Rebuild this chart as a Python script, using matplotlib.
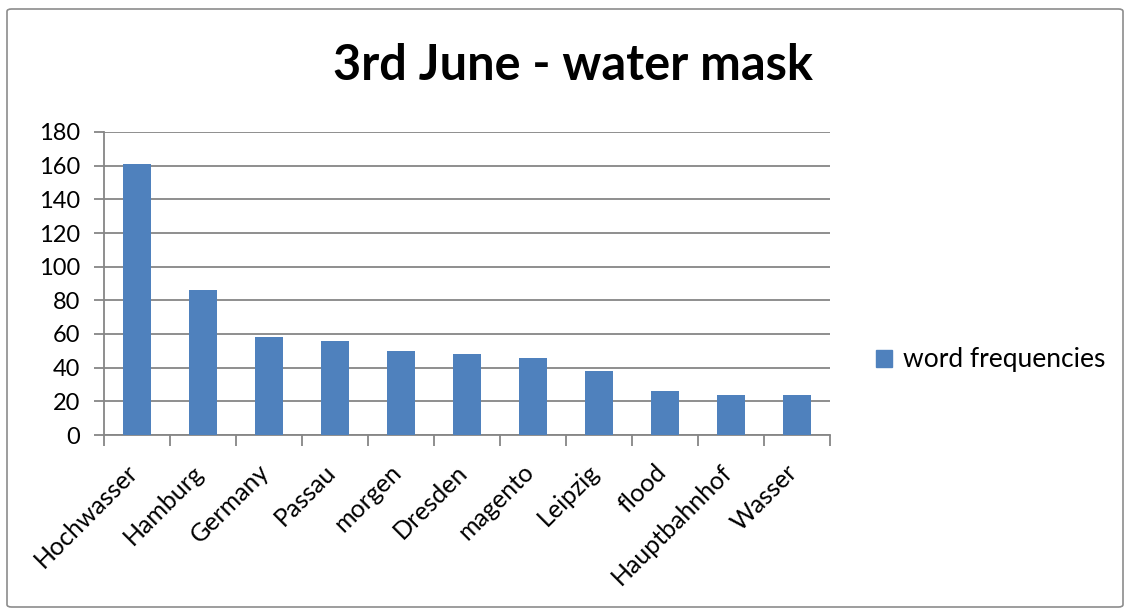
import matplotlib.pyplot as plt
from matplotlib.patches import FancyBboxPatch, Patch

# word counts for the 3rd June water mask
words = ['Hochwasser', 'Hamburg', 'Germany', 'Passau', 'morgen', 'Dresden',
         'magento', 'Leipzig', 'flood', 'Hauptbahnhof', 'Wasser']
counts = [161, 86, 58, 56, 50, 48, 46, 38, 26, 24, 24]
y_ticks = [0, 20, 40, 60, 80, 100, 120, 140, 160, 180]

BAR = '#4F81BD'
GRID = '#868686'
W, H = 1131, 615

plt.rcParams['font.family'] = ['Lato', 'DejaVu Sans']

fig = plt.figure(figsize=(W / 100, H / 100), dpi=100)

# outer chart frame
frame = FancyBboxPatch((7 / W, 8 / H), 1116 / W, 598 / H,
                       boxstyle='round,pad=0,rounding_size=0.004',
                       transform=fig.transFigure, fill=False,
                       edgecolor='#8c8c8c', linewidth=1.2)
fig.patches.append(frame)

ax = fig.add_axes([104 / W, 1 - 435 / H, (830 - 104) / W, (435 - 132) / H])
x = range(len(words))
ax.bar(x, counts, width=0.41, color=BAR, zorder=3)

ax.set_xlim(-0.5, len(words) - 0.5)
ax.set_ylim(0, 180)
ax.set_yticks(y_ticks)
ax.tick_params(axis='y', labelsize=17, length=7, width=1.3, color=GRID, pad=10)
ax.grid(axis='y', color=GRID, linewidth=1.3, zorder=0)

# category ticks sit between the bars
ax.set_xticks([i - 0.5 for i in range(len(words) + 1)])
ax.set_xticklabels([])
ax.tick_params(axis='x', length=8, width=1.3, color=GRID)
for i, w in enumerate(words):
    ax.text(i - 0.17, -15, w, rotation=45, ha='right', va='top',
            fontsize=18, rotation_mode='anchor')

for side in ['top', 'right']:
    ax.spines[side].set_visible(False)
for side in ['left', 'bottom']:
    ax.spines[side].set_color(GRID)
    ax.spines[side].set_linewidth(1.3)

fig.text(573 / W, 1 - 66 / H, '3rd June - water mask', ha='center', va='center',
         fontsize=35, fontweight='bold')

fig.legend(handles=[Patch(color=BAR, label='word frequencies')],
           loc='center left', bbox_to_anchor=(852 / W, 1 - 360 / H),
           frameon=False, fontsize=19, handlelength=0.6, handleheight=0.6,
           handletextpad=0.45)

fig.savefig('out.png', dpi=100)
